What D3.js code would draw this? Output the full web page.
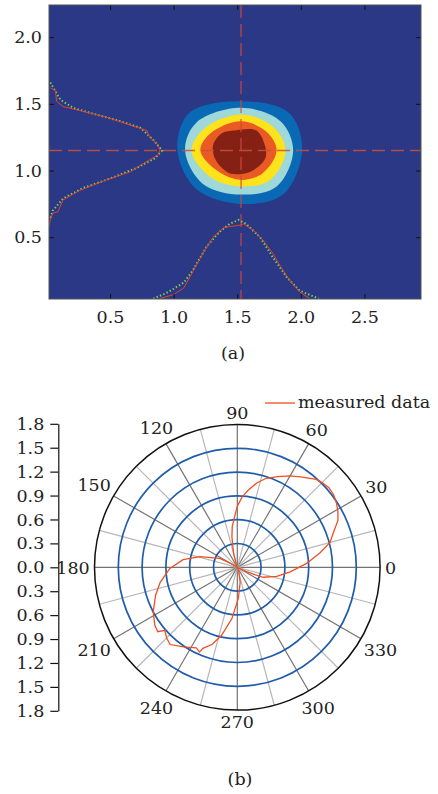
<!DOCTYPE html>
<html>
<head>
<meta charset="utf-8">
<script src="https://cdn.jsdelivr.net/npm/d3@7"></script>
<style>
  body { margin: 0; background: #fff; }
  text { font-family: "DejaVu Serif", serif; font-size: 17.5px; fill: #222; }
</style>
</head>
<body>
<div id="plot"></div>
<script>
// ---- (a) beam spot data ----
var xTicks = [0.5, 1.0, 1.5, 2.0, 2.5];
var yTicks = [0.5, 1.0, 1.5, 2.0];
var crossX = 1.53, crossY = 1.15;

// contour levels, outer to inner, boundary points [x, y]
var levelColors = ["#0a69b5", "#9ed8d8", "#fde21c", "#ea5a24", "#852114"];
var levelOuter  = [[2.01,1.15],[1.91,1.43],[1.53,1.52],[1.12,1.43],[1.03,1.15],[1.18,0.86],[1.53,0.75],[1.86,0.82]];
var levelCyan   = [[1.94,1.15],[1.84,1.37],[1.53,1.47],[1.18,1.36],[1.09,1.15],[1.23,0.90],[1.53,0.82],[1.81,0.88]];
var levelYellow = [[1.88,1.15],[1.78,1.33],[1.53,1.42],[1.25,1.32],[1.14,1.15],[1.29,0.95],[1.53,0.88],[1.76,0.93]];
var levelOrange = [[1.81,1.15],[1.73,1.29],[1.53,1.37],[1.29,1.28],[1.21,1.15],[1.34,1.00],[1.53,0.93],[1.70,0.98]];
var levelCore   = [[1.38,1.28],[1.48,1.30],[1.65,1.30],[1.72,1.18],[1.72,1.09],[1.60,0.99],[1.44,0.98],[1.33,1.08],[1.31,1.19]];

// vertical profile (drawn along left edge)
var profLeftMeasured = [[0.03,1.62],[0.07,1.60],[0.08,1.52],[0.13,1.48],[0.26,1.45],[0.47,1.40],[0.63,1.35],[0.79,1.30],
  [0.81,1.25],[0.88,1.19],[0.89,1.15],[0.88,1.12],[0.74,1.04],[0.66,0.99],[0.47,0.93],[0.26,0.85],[0.13,0.78],
  [0.09,0.69],[0.05,0.68],[0.03,0.63],[0.02,0.58]];
var profLeftFit = [[0.03,1.66],[0.11,1.53],[0.21,1.47],[0.39,1.42],[0.58,1.37],[0.74,1.32],[0.84,1.23],[0.91,1.15],
  [0.85,1.09],[0.71,1.02],[0.50,0.94],[0.29,0.87],[0.13,0.79],[0.05,0.70],[0.03,0.64]];
// horizontal profile (drawn along bottom edge)
var profBottomMeasured = [[0.89,0.04],[1.00,0.07],[1.08,0.12],[1.15,0.24],[1.23,0.38],[1.31,0.50],[1.39,0.57],[1.44,0.58],
  [1.52,0.59],[1.55,0.60],[1.63,0.55],[1.70,0.48],[1.78,0.38],[1.84,0.28],[1.91,0.18],[1.99,0.09],[2.07,0.04]];
var profBottomFit = [[0.84,0.04],[0.94,0.08],[1.08,0.16],[1.15,0.25],[1.26,0.43],[1.36,0.54],[1.44,0.60],[1.51,0.63],
  [1.57,0.60],[1.68,0.50],[1.78,0.35],[1.89,0.20],[1.99,0.10],[2.14,0.04]];

// ---- (b) polar data ----
var radialTicks = [0.3, 0.6, 0.9, 1.2, 1.5];
var angleLabels = [0, 30, 60, 90, 120, 150, 180, 210, 240, 270, 300, 330];
var sideTicks = [-1.8, -1.5, -1.2, -0.9, -0.6, -0.3, 0, 0.3, 0.6, 0.9, 1.2, 1.5, 1.8];
var measAngle = [3, 10, 15, 20, 25, 29, 33, 37, 41, 45, 48, 55, 60, 66, 72, 77, 82, 86, 90, 93, 97, 100, 102, 105, 108, 112,
  146, 148, 150, 153, 164, 172, 181, 191, 199, 208, 215, 219, 221, 225, 229, 236, 243, 246, 247, 252, 257, 264, 272, 281, 290, 294,
  331, 333, 335, 337, 339, 347, 355];
var measR = [0.87, 1.06, 1.21, 1.29, 1.40, 1.45, 1.49, 1.52, 1.53, 1.51, 1.49, 1.39, 1.33, 1.25, 1.18, 1.09, 0.98, 0.89, 0.77, 0.64, 0.52, 0.39, 0.27, 0.18, 0.05, 0,
  0, 0.05, 0.12, 0.25, 0.49, 0.69, 0.85, 0.99, 1.09, 1.20, 1.27, 1.29, 1.21, 1.26, 1.29, 1.21, 1.14, 1.17, 1.11, 1.02, 0.88, 0.65, 0.39, 0.19, 0.05, 0,
  0, 0.02, 0.12, 0.22, 0.35, 0.51, 0.67];

var svg = d3.select("#plot").append("svg")
  .attr("width", 438).attr("height", 794);

// ================= (a) =================
var margin = {left: 49, top: 5}, width = 372, height = 294;
var g = svg.append("g").attr("transform", "translate(" + margin.left + "," + margin.top + ")");

var x = d3.scaleLinear().domain([0.02, 2.945]).range([0, width]);
var y = d3.scaleLinear().domain([0.037, 2.241]).range([height, 0]);

g.append("clipPath").attr("id", "clipA")
  .append("rect").attr("width", width).attr("height", height);

var plot = g.append("g").attr("clip-path", "url(#clipA)");
plot.append("rect").attr("width", width).attr("height", height).attr("fill", "#2a3886");

var blob = d3.line().x(d => x(d[0])).y(d => y(d[1])).curve(d3.curveCatmullRomClosed);
[levelOuter, levelCyan, levelYellow, levelOrange, levelCore].forEach(function(pts, i) {
  plot.append("path").attr("d", blob(pts)).attr("fill", levelColors[i]);
});

// crosshair
plot.append("line")
  .attr("x1", x(crossX)).attr("x2", x(crossX)).attr("y1", 0).attr("y2", height)
  .attr("stroke", "#d8473a").attr("stroke-width", 1.2).attr("stroke-dasharray", "13,6").attr("opacity", 0.9);
plot.append("line")
  .attr("x1", 0).attr("x2", width).attr("y1", y(crossY)).attr("y2", y(crossY))
  .attr("stroke", "#c9503f").attr("stroke-width", 1.4).attr("stroke-dasharray", "13,6").attr("opacity", 0.85);

var prof = d3.line().x(d => x(d[0])).y(d => y(d[1]));
[profLeftFit, profBottomFit].forEach(function(pts) {
  plot.append("path").attr("d", prof(pts)).attr("fill", "none")
    .attr("stroke", "#7fcf52").attr("stroke-width", 2).attr("stroke-dasharray", "1.4,2.2");
});
[profLeftMeasured, profBottomMeasured].forEach(function(pts) {
  plot.append("path").attr("d", prof(pts)).attr("fill", "none")
    .attr("stroke", "#e2412f").attr("stroke-width", 1);
});

// axes: inward ticks on all four sides
g.append("g").attr("transform", "translate(0," + height + ")")
  .call(d3.axisBottom(x).tickValues(xTicks).tickFormat(d3.format(".1f")).tickSize(-5).tickSizeOuter(0).tickPadding(12));
g.append("g")
  .call(d3.axisLeft(y).tickValues(yTicks).tickFormat(d3.format(".1f")).tickSize(-5).tickSizeOuter(0).tickPadding(7));
g.append("g")
  .call(d3.axisTop(x).tickValues(xTicks).tickFormat("").tickSize(-5).tickSizeOuter(0));
g.append("g").attr("transform", "translate(" + width + ",0)")
  .call(d3.axisRight(y).tickValues(yTicks).tickFormat("").tickSize(-5).tickSizeOuter(0));
g.selectAll(".domain").remove();
g.selectAll(".tick line").attr("stroke", "#111");
g.append("rect").attr("width", width).attr("height", height)
  .attr("fill", "none").attr("stroke", "#555").attr("stroke-width", 1);

svg.append("text").attr("x", 233).attr("y", 359).attr("text-anchor", "middle").text("(a)");

// ================= (b) =================
var cx = 237.3, cy = 567.3;
var r = d3.scaleLinear().domain([0, 1.8]).range([0, 142.8]);
var pg = svg.append("g").attr("transform", "translate(" + cx + "," + cy + ")");

// spokes every 15 degrees
d3.range(0, 360, 15).forEach(function(a) {
  var t = a * Math.PI / 180;
  pg.append("line").attr("x1", 0).attr("y1", 0)
    .attr("x2", r(1.8) * Math.cos(t)).attr("y2", -r(1.8) * Math.sin(t))
    .attr("stroke", a % 30 === 0 ? "#737373" : "#b8b8b8").attr("stroke-width", 1.2);
});

pg.selectAll("circle.grid").data(radialTicks).enter().append("circle")
  .attr("class", "grid").attr("r", d => r(d))
  .attr("fill", "none").attr("stroke", "#1f5caa").attr("stroke-width", 1.7);
pg.append("circle").attr("r", r(1.8))
  .attr("fill", "none").attr("stroke", "#111").attr("stroke-width", 1.5);

// angle labels outside the rim
angleLabels.forEach(function(a) {
  var t = a * Math.PI / 180;
  var w = String(a).length * 11, hh = 13;
  var off = r(1.8) + 5 + Math.abs(Math.cos(t)) * w / 2 + Math.abs(Math.sin(t)) * hh / 2;
  pg.append("text")
    .attr("x", off * Math.cos(t)).attr("y", -off * Math.sin(t))
    .attr("dy", "0.36em").attr("text-anchor", "middle").text(a);
});

// measured curve
var pts = measAngle.map((a, i) => [a, measR[i]]);
var radial = d3.lineRadial()
  .angle(d => (90 - d[0]) * Math.PI / 180)
  .radius(d => r(d[1]))
  .curve(d3.curveLinearClosed);
pg.append("path").attr("d", radial(pts))
  .attr("fill", "none").attr("stroke", "#f04e23").attr("stroke-width", 1.3);

// side scale
var ys = d3.scaleLinear().domain([-1.8, 1.8]).range([cy + 143.5, cy - 143.5]);
svg.append("g").attr("transform", "translate(58.3,0)")
  .call(d3.axisLeft(ys).tickValues(sideTicks).tickFormat(d => Math.abs(d).toFixed(1)).tickSize(8).tickSizeOuter(0).tickPadding(6))
  .call(s => s.selectAll("line, path").attr("stroke", "#111").attr("stroke-width", 1.2));

// legend
svg.append("line").attr("x1", 265).attr("x2", 295).attr("y1", 403).attr("y2", 403)
  .attr("stroke", "#f04e23").attr("stroke-width", 1.3);
svg.append("text").attr("x", 298).attr("y", 408).text("measured data");

svg.append("text").attr("x", 240).attr("y", 785).attr("text-anchor", "middle").text("(b)");
</script>
</body>
</html>
